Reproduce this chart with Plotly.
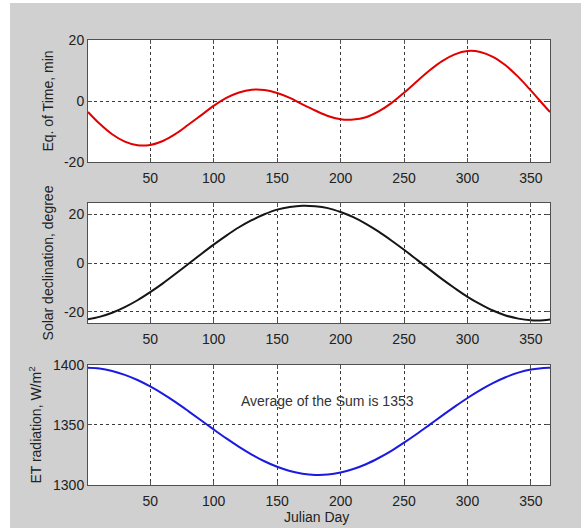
import plotly.graph_objects as go

days = [1, 10, 20, 30, 40, 50, 60, 70, 80, 90, 100, 110, 120, 130, 140, 150, 160, 170, 180,
        190, 200, 210, 220, 230, 240, 250, 260, 270, 280, 290, 300, 310, 320, 330, 340, 350, 360, 365]

eq_time = [-3.6, -7.4, -10.9, -13.3, -14.5, -14.4, -13.1, -10.8, -7.8, -4.7, -1.6, 1.0, 2.8, 3.7,
           3.6, 2.6, 1.0, -1.1, -3.1, -4.9, -6.0, -6.1, -5.3, -3.4, -0.7, 2.7, 6.4, 10.0, 13.1,
           15.3, 16.4, 16.1, 14.5, 11.7, 7.9, 3.4, -1.3, -3.6]

declination = [-23.0, -22.0, -20.3, -18.0, -15.2, -11.9, -8.3, -4.4, -0.4, 3.6, 7.5, 11.2, 14.6,
               17.5, 19.9, 21.8, 22.9, 23.4, 23.2, 22.4, 20.8, 18.7, 16.0, 12.8, 9.2, 5.4, 1.4,
               -2.6, -6.6, -10.3, -13.8, -16.8, -19.4, -21.4, -22.7, -23.4, -23.4, -23.1]

et_radiation = [1397.6, 1397.0, 1395.0, 1391.8, 1387.5, 1382.1, 1375.9, 1369.0, 1361.6, 1354.0,
                1346.3, 1338.8, 1331.8, 1325.4, 1319.8, 1315.2, 1311.7, 1309.4, 1308.4, 1308.7,
                1310.4, 1313.3, 1317.3, 1322.5, 1328.5, 1335.3, 1342.5, 1350.1, 1357.8, 1365.3,
                1372.5, 1379.1, 1384.9, 1389.8, 1393.6, 1396.2, 1397.5, 1397.6]

x_ticks = [50, 100, 150, 200, 250, 300, 350]
y1_ticks = [-20, 0, 20]
y1_labels = ["-20", "0", "20"]
y2_ticks = [-20, 0, 20]
y2_labels = ["-20", "0", "20"]
y3_ticks = [1300, 1350, 1400]
y3_labels = ["1300", "1350", "1400"]

y_titles = ["Eq. of Time, min", "Solar declination, degree", "ET radiation, W/m<sup>2</sup>"]
x_title = "Julian Day"
note_text = "Average of the Sum is 1353"

FONT = "Liberation Sans, Arial, sans-serif"
BG = "#d0d0d0"
TXT = "#222"

fig = go.Figure()
fig.add_trace(go.Scatter(x=days, y=eq_time, mode="lines", line=dict(color="#e00000", width=2, shape="spline"),
                         xaxis="x", yaxis="y", showlegend=False))
fig.add_trace(go.Scatter(x=days, y=declination, mode="lines", line=dict(color="#151515", width=2, shape="spline"),
                         xaxis="x2", yaxis="y2", showlegend=False))
fig.add_trace(go.Scatter(x=days, y=et_radiation, mode="lines", line=dict(color="#1a1ae0", width=2, shape="spline"),
                         xaxis="x3", yaxis="y3", showlegend=False))

common_x = dict(range=[1, 365], tickvals=x_ticks, showgrid=True, gridcolor="#3a3a3a", griddash="dot",
                gridwidth=1, showline=True, linecolor="#505050", linewidth=1, mirror="ticks",
                ticks="inside", ticklen=4, tickcolor="#505050", zeroline=False, ticklabelstandoff=3,
                automargin=False, tickfont=dict(family=FONT, size=14, color=TXT))
common_y = dict(showgrid=True, gridcolor="#3a3a3a", griddash="dot", gridwidth=1, showline=True,
                linecolor="#505050", linewidth=1, mirror="ticks", ticks="inside", ticklen=4,
                tickcolor="#505050", zeroline=False, automargin=False,
                tickfont=dict(family=FONT, size=14, color=TXT))

fig.update_layout(
    width=581, height=528,
    margin=dict(l=88, r=31, t=40, b=43),
    paper_bgcolor=BG, plot_bgcolor="white",
    font=dict(family=FONT, size=14, color=TXT),
    xaxis=dict(common_x, anchor="y"),
    xaxis2=dict(common_x, anchor="y2"),
    xaxis3=dict(common_x, anchor="y3"),
    yaxis=dict(common_y, domain=[0.7258, 1.0], range=[-20, 20], tickvals=y1_ticks, ticktext=y1_labels, anchor="x",
               title=dict(text=y_titles[0], font=dict(family=FONT, size=14, color=TXT), standoff=7)),
    yaxis2=dict(common_y, domain=[0.364, 0.6337], range=[-24.5, 24.5], tickvals=y2_ticks, ticktext=y2_labels, anchor="x2",
                title=dict(text=y_titles[1], font=dict(family=FONT, size=14, color=TXT), standoff=7)),
    yaxis3=dict(common_y, domain=[0.0, 0.2697], range=[1300, 1400], tickvals=y3_ticks, ticktext=y3_labels, anchor="x3",
                title=dict(text=y_titles[2], font=dict(family=FONT, size=14, color=TXT), standoff=8)),
    annotations=[
        dict(x=190, y=1370, xref="x3", yref="y3", text=note_text, showarrow=False,
             font=dict(family=FONT, size=14, color="#333"), xanchor="center", yanchor="middle"),
        dict(x=0.495, y=-0.0725, xref="paper", yref="paper", text=x_title, showarrow=False,
             font=dict(family=FONT, size=14, color=TXT), xanchor="center", yanchor="middle"),
    ],
    shapes=[
        dict(type="rect", xref="paper", yref="paper", x0=-0.1905, x1=-0.1688, y0=-0.0966, y1=1.0899,
             fillcolor="white", line=dict(width=0), layer="above"),
        dict(type="rect", xref="paper", yref="paper", x0=-0.1905, x1=1.0671, y0=1.0831, y1=1.0899,
             fillcolor="white", line=dict(width=0), layer="above"),
    ],
)

fig.write_html("out.html")
